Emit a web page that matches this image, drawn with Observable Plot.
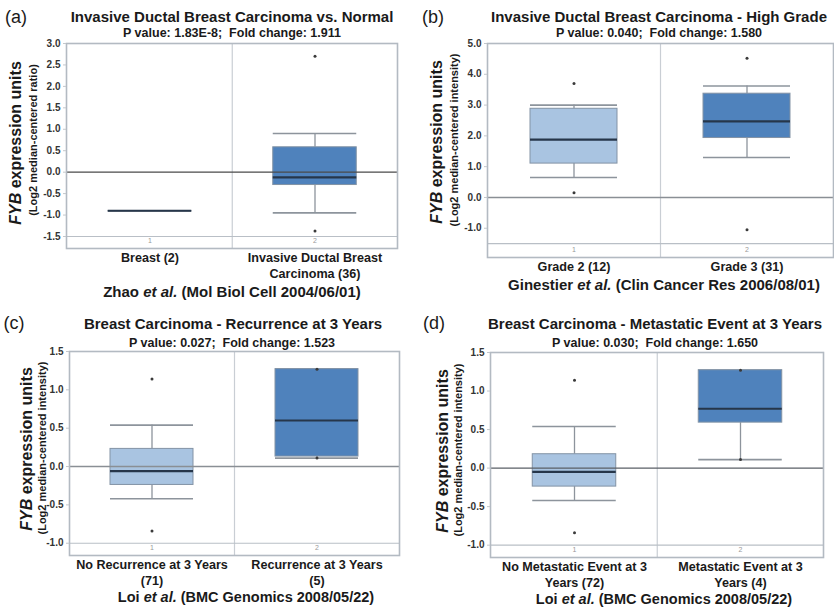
<!DOCTYPE html>
<html><head><meta charset="utf-8">
<script src="https://cdn.jsdelivr.net/npm/d3@7"></script>
<script src="https://cdn.jsdelivr.net/npm/@observablehq/plot@0.6"></script>
<style>
body{margin:0;background:#fff;font-family:"Liberation Sans",Arial,sans-serif;}
#c{position:relative;width:834px;height:608px;overflow:hidden;background:#fff;}
.t{position:absolute;white-space:nowrap;font-weight:bold;color:#1a1a1a;transform:translate(-50%,-50%);line-height:1;}
.lab{position:absolute;white-space:nowrap;font-weight:normal;color:#1a1a1a;font-size:18px;transform:translate(-50%,-50%);line-height:1;}
.yl{position:absolute;white-space:nowrap;font-weight:bold;color:#1a1a1a;transform:translate(-50%,-50%) rotate(-90deg);line-height:1;}
.p{position:absolute;}
</style></head>
<body><div id="c"></div>
<script>
// ---------- data ----------
const panelA_groups = ["Breast (2)", "Invasive Ductal Breast\nCarcinoma (36)"];
const panelA_q1 = [-0.90, -0.30];
const panelA_median = [-0.90, -0.12];
const panelA_q3 = [-0.90, 0.58];
const panelA_low = [-0.90, -0.95];
const panelA_high = [-0.90, 0.90];
const panelA_outliers = [[], [2.70, -1.37]];
const panelA_yTicks = [3.0, 2.5, 2.0, 1.5, 1.0, 0.5, 0.0, -0.5, -1.0, -1.5];

const panelB_groups = ["Grade 2 (12)", "Grade 3 (31)"];
const panelB_q1 = [1.10, 1.93];
const panelB_median = [1.88, 2.47];
const panelB_q3 = [2.88, 3.37];
const panelB_low = [0.65, 1.30];
const panelB_high = [3.00, 3.62];
const panelB_outliers = [[3.70, 0.15], [4.52, -1.05]];
const panelB_yTicks = [5.0, 4.0, 3.0, 2.0, 1.0, 0.0, -1.0];

const panelC_groups = ["No Recurrence at 3 Years\n(71)", "Recurrence at 3 Years\n(5)"];
const panelC_q1 = [-0.24, 0.13];
const panelC_median = [-0.06, 0.60];
const panelC_q3 = [0.23, 1.27];
const panelC_low = [-0.42, 0.11];
const panelC_high = [0.54, 1.27];
const panelC_outliers = [[1.14, -0.84], [1.27, 0.11]];
const panelC_yTicks = [1.5, 1.0, 0.5, 0.0, -0.5, -1.0];

const panelD_groups = ["No Metastatic Event at 3\nYears (72)", "Metastatic Event at 3\nYears (4)"];
const panelD_q1 = [-0.24, 0.59];
const panelD_median = [-0.05, 0.77];
const panelD_q3 = [0.18, 1.27];
const panelD_low = [-0.42, 0.11];
const panelD_high = [0.54, 1.27];
const panelD_outliers = [[1.14, -0.84], [1.27, 0.11]];
const panelD_yTicks = [1.5, 1.0, 0.5, 0.0, -0.5, -1.0];

const panelLabels = ["(a)", "(b)", "(c)", "(d)"];
const titles = [
  "Invasive Ductal Breast Carcinoma vs. Normal",
  "Invasive Ductal Breast Carcinoma - High Grade",
  "Breast Carcinoma - Recurrence at 3 Years",
  "Breast Carcinoma - Metastatic Event at 3 Years"
];
const subtitles = [
  "P value: 1.83E-8;&nbsp; Fold change: 1.911",
  "P value: 0.040;&nbsp; Fold change: 1.580",
  "P value: 0.027;&nbsp; Fold change: 1.523",
  "P value: 0.030;&nbsp; Fold change: 1.650"
];
const captions = [
  "Zhao <i>et al.</i> (Mol Biol Cell 2004/06/01)",
  "Ginestier <i>et al.</i> (Clin Cancer Res 2006/08/01)",
  "Loi <i>et al.</i> (BMC Genomics 2008/05/22)",
  "Loi <i>et al.</i> (BMC Genomics 2008/05/22)"
];
const yUnits = [
  "(Log2 median-centered ratio)",
  "(Log2 median-centered intensity)",
  "(Log2 median-centered intensity)",
  "(Log2 median-centered intensity)"
];
const boxFills = ["#a9c4e1", "#4f82bc"];

// ---------- drawing ----------
const root = document.getElementById("c");
const ML = 40, MT = 8;

function drawPanel(cfg) {
  const rows = cfg.groups.map((g, i) => ({g, q1: cfg.q1[i], med: cfg.med[i], q3: cfg.q3[i], lo: cfg.lo[i], hi: cfg.hi[i], fill: boxFills[i]}));
  const outs = cfg.groups.flatMap((g, i) => cfg.outliers[i].map(v => ({g, v})));
  const fw = cfg.frameW, fh = cfg.frameH;
  const bw = fw / 2;
  const inset = (bw - cfg.boxW) / 2;
  const width = ML + fw + cfg.mr;
  const height = MT + fh + 40;
  const svg = Plot.plot({
    width, height,
    marginLeft: ML, marginTop: MT, marginRight: cfg.mr, marginBottom: 40,
    x: {type: "band", domain: cfg.groups, padding: 0, axis: null},
    y: {domain: cfg.yDomain, axis: null},
    color: {type: "identity"},
    style: {fontFamily: "'Liberation Sans', Arial, sans-serif", background: "transparent", overflow: "visible"},
    marks: [
      Plot.ruleX([cfg.groups[1]], {dx: -bw / 2, stroke: "#c9ced4", strokeWidth: 1.2}),
      Plot.ruleY([cfg.base], {stroke: "#b9bfc6", strokeWidth: 1.2}),
      Plot.text(cfg.groups, {x: d => d, text: (d, i) => String(i + 1), frameAnchor: "bottom", dy: -6, fontSize: 7, fill: "#999", fontWeight: "normal"}),
      Plot.ruleX(rows, {x: "g", y1: "q3", y2: "hi", stroke: "#8d949c", strokeWidth: 1.3}),
      Plot.ruleX(rows, {x: "g", y1: "q1", y2: "lo", stroke: "#8d949c", strokeWidth: 1.3}),
      Plot.tickY(rows, {x: "g", y: "hi", stroke: "#8d949c", strokeWidth: 1.6, insetLeft: inset, insetRight: inset}),
      Plot.tickY(rows, {x: "g", y: "lo", stroke: "#8d949c", strokeWidth: 1.6, insetLeft: inset, insetRight: inset}),
      Plot.barY(rows, {x: "g", y1: "q1", y2: "q3", fill: "fill", stroke: "#8393a5", strokeWidth: 1, insetLeft: inset, insetRight: inset}),
      Plot.ruleY([0], {stroke: cfg.zeroColor, strokeWidth: 1.4}),
      Plot.tickY(rows, {x: "g", y: "med", stroke: "#26364a", strokeWidth: 2.2, insetLeft: inset, insetRight: inset}),
      Plot.dot(outs, {x: "g", y: "v", r: 1.5, fill: "#3a3a3a", stroke: null}),
      Plot.frame({stroke: "#b3bac2", strokeWidth: 1.6}),
      Plot.axisY(cfg.ticks, {tickSize: 3, text: null, stroke: "#c3c7cc", label: null}),
      Plot.axisY(cfg.ticks, {tickSize: 0, tickPadding: 6, tickFormat: d => d.toFixed(1), fontSize: 10, fontWeight: "bold", fill: "#333", label: null}),
      Plot.axisX({tickSize: 0, tickPadding: 2, fontSize: 12.6, fontWeight: "bold", fill: "#1a1a1a", lineHeight: 1.27, label: null})
    ]
  });
  svg.classList.add("p");
  svg.style.left = (cfg.fx - ML) + "px";
  svg.style.top = (cfg.fy - MT) + "px";
  root.appendChild(svg);
}

function addText(cls, html, x, y, size) {
  const d = document.createElement("div");
  d.className = cls;
  d.innerHTML = html;
  d.style.left = x + "px";
  d.style.top = y + "px";
  if (size) d.style.fontSize = size + "px";
  root.appendChild(d);
}

const layouts = [
  {fx: 66, fy: 43, frameW: 331, frameH: 205, mr: 4, boxW: 84, yDomain: [-1.78, 3.0], base: -1.5, zeroColor: "#4a4a4a",
   groups: panelA_groups, q1: panelA_q1, med: panelA_median, q3: panelA_q3, lo: panelA_low, hi: panelA_high, outliers: panelA_outliers, ticks: panelA_yTicks,
   lab: [16, 17], title: [232, 16], sub: [232, 33], cap: [232, 291], capSize: 15, y1: [16, 143], y2: [33, 140]},
  {fx: 487, fy: 43, frameW: 346, frameH: 214, mr: 1, boxW: 87, yDomain: [-1.95, 5.0], base: -1.5, zeroColor: "#8a8f95",
   groups: panelB_groups, q1: panelB_q1, med: panelB_median, q3: panelB_q3, lo: panelB_low, hi: panelB_high, outliers: panelB_outliers, ticks: panelB_yTicks,
   lab: [433, 17], title: [659, 16], sub: [659, 33], cap: [664, 284], capSize: 15, y1: [437, 142], y2: [454, 140]},
  {fx: 69, fy: 351, frameW: 330, frameH: 204, mr: 4, boxW: 83, yDomain: [-1.16, 1.5], base: -1.0, zeroColor: "#8a8f95",
   groups: panelC_groups, q1: panelC_q1, med: panelC_median, q3: panelC_q3, lo: panelC_low, hi: panelC_high, outliers: panelC_outliers, ticks: panelC_yTicks,
   lab: [14, 323], title: [233, 323], sub: [232, 343], cap: [246, 597], capSize: 14.5, y1: [27, 449], y2: [42, 448]},
  {fx: 490, fy: 352, frameW: 333, frameH: 205, mr: 4, boxW: 84, yDomain: [-1.16, 1.5], base: -1.0, zeroColor: "#5a5f66",
   groups: panelD_groups, q1: panelD_q1, med: panelD_median, q3: panelD_q3, lo: panelD_low, hi: panelD_high, outliers: panelD_outliers, ticks: panelD_yTicks,
   lab: [434, 323], title: [655, 323], sub: [655, 343], cap: [664, 599], capSize: 14.5, y1: [443, 451], y2: [458, 450]}
];

layouts.forEach((L, i) => {
  drawPanel(L);
  addText("lab", panelLabels[i], L.lab[0], L.lab[1]);
  addText("t", titles[i], L.title[0], L.title[1], 15);
  addText("t", subtitles[i], L.sub[0], L.sub[1], 12.5);
  addText("t", captions[i], L.cap[0], L.cap[1], L.capSize);
  addText("yl", "<i>FYB</i> expression units", L.y1[0], L.y1[1], 16);
  addText("yl", yUnits[i], L.y2[0], L.y2[1], 11);
});
</script>
</body></html>
